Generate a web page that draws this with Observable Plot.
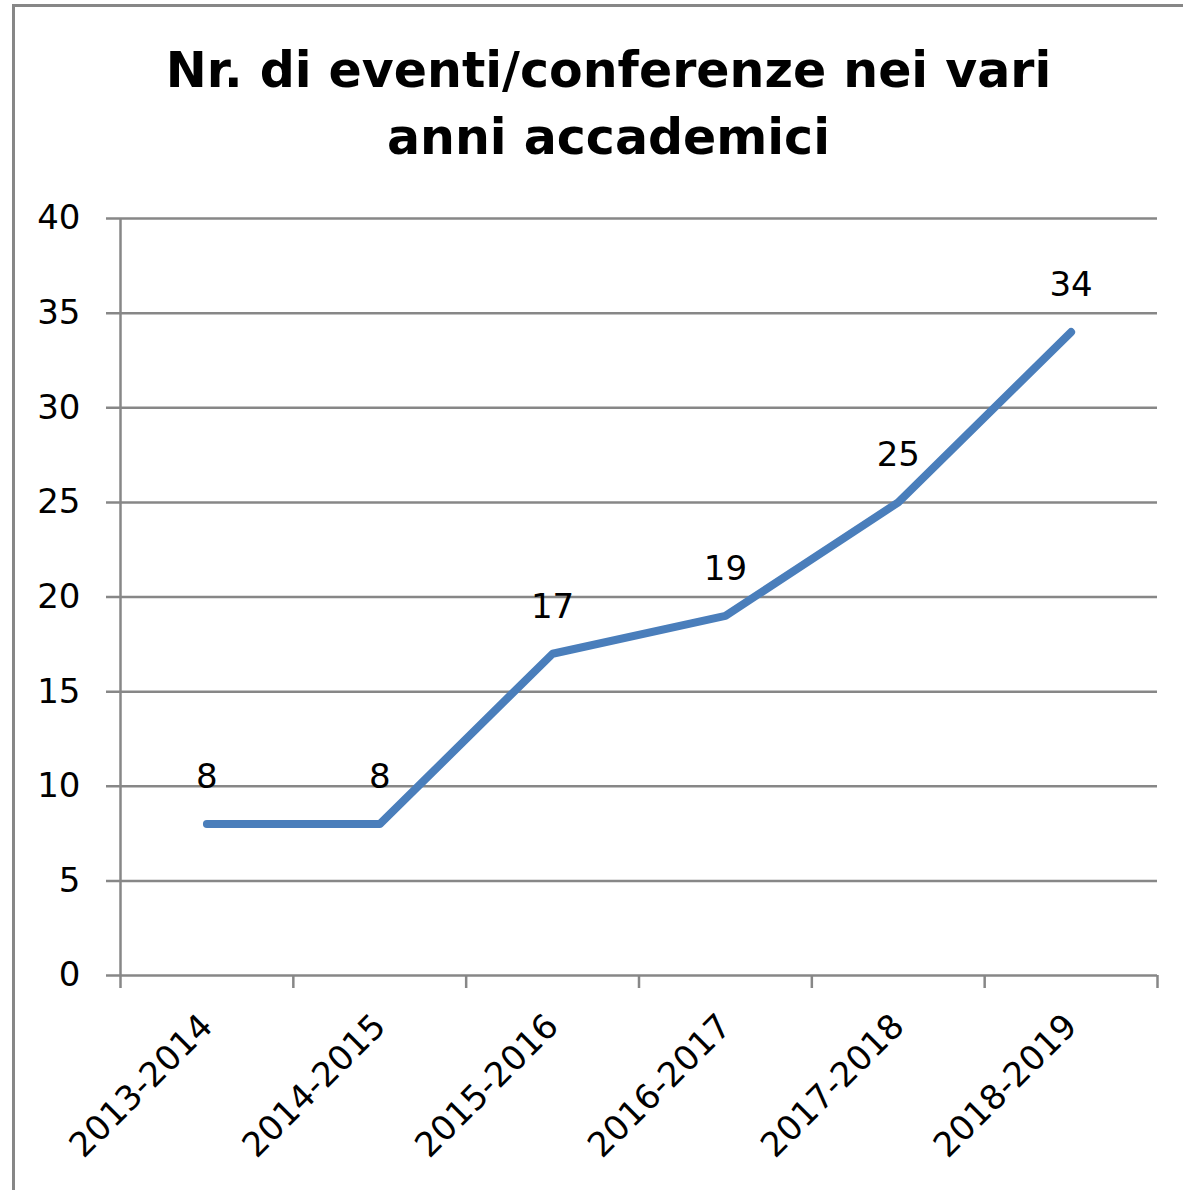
<!DOCTYPE html>
<html>
<head>
<meta charset="utf-8">
<script src="https://cdn.jsdelivr.net/npm/d3@7"></script>
<script src="https://cdn.jsdelivr.net/npm/@observablehq/plot@0.6"></script>
<style>
  html, body { margin: 0; padding: 0; background: #fff; overflow: hidden; }
  #wrap { position: relative; width: 1183px; height: 1190px; }
  #frame { position: absolute; left: 12px; top: 4px; width: 1200px; height: 1200px; border: 3px solid #878787; box-sizing: border-box; pointer-events: none; }
  #title { position: relative; height: 190px; box-sizing: border-box; padding-top: 37px; padding-left: 34px; width: 1183px;
           text-align: center; font-family: "DejaVu Sans", Verdana, sans-serif; font-weight: bold; font-size: 49px; line-height: 67px; color: #000; }
  #chart svg { display: block; }
</style>
</head>
<body>
<div id="wrap">
  <div id="title">Nr. di eventi/conferenze nei vari<br>anni accademici</div>
  <div id="chart"></div>
  <div id="frame"></div>
</div>
<script>
const categories = ["2013-2014", "2014-2015", "2015-2016", "2016-2017", "2017-2018", "2018-2019"];
const values = [8, 8, 17, 19, 25, 34];
const yTicks = [0, 5, 10, 15, 20, 25, 30, 35, 40];

const data = categories.map((c, i) => ({i, c, v: values[i]}));
const idx = categories.map((_, i) => i);
const boundaries = [...idx.map(i => i - 0.5), categories.length - 0.5];

const grid = "#878787";

const chart = Plot.plot({
  width: 1183,
  height: 1000,
  marginTop: 28,
  marginBottom: 215,
  marginLeft: 120,
  marginRight: 26,
  style: {fontFamily: "DejaVu Sans, Verdana, sans-serif", fontSize: "34px", color: "#000", background: "transparent"},
  x: {domain: [-0.5, categories.length - 0.5]},
  y: {domain: [0, 40]},
  marks: [
    Plot.gridY(yTicks, {stroke: grid, strokeOpacity: 1, strokeWidth: 2.5, insetLeft: -14}),
    Plot.ruleX([-0.5], {stroke: grid, strokeWidth: 2.5}),
    Plot.axisY({ticks: yTicks, tickSize: 0, tickPadding: 40, label: null, fill: "#000"}),
    Plot.axisX({ticks: boundaries, tickSize: 13, tickFormat: () => "", label: null, stroke: grid, strokeWidth: 2.5}),
    Plot.axisX({ticks: idx, tickSize: 0, tickPadding: 45, tickRotate: -45, tickFormat: i => categories[i], label: null, fill: "#000"}),
    Plot.line(data, {x: "i", y: "v", stroke: "#4A7EBB", strokeWidth: 8, strokeLinejoin: "round", strokeLinecap: "round"}),
    Plot.text(data, {x: "i", y: "v", text: d => String(d.v), dy: -36, lineAnchor: "bottom", fill: "#000"})
  ]
});
document.getElementById("chart").appendChild(chart);
</script>
</body>
</html>
